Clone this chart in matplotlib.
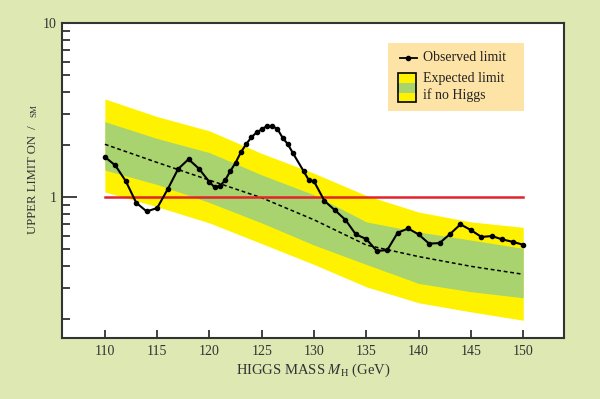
import numpy as np
import matplotlib
matplotlib.use("Agg")
import matplotlib.pyplot as plt
from matplotlib.ticker import FixedLocator, NullFormatter

# observed limit (sigma / sigma_SM)
obs_mass = [110, 111, 112, 113, 114, 115, 116, 117, 118, 119, 120,
            120.5, 121, 121.5, 122, 122.5, 123, 123.5, 124, 124.5, 125,
            125.5, 126, 126.5, 127, 127.5, 128, 129, 129.5, 130, 131,
            132, 133, 134, 135, 136, 137, 138, 139, 140, 141, 142, 143,
            144, 145, 146, 147, 148, 149, 150]
obs_limit = [1.70, 1.52, 1.235, 0.927, 0.827, 0.865, 1.107, 1.448, 1.65, 1.455, 1.22,
             1.137, 1.157, 1.25, 1.41, 1.575, 1.805, 2.01, 2.20, 2.35, 2.45,
             2.56, 2.56, 2.46, 2.19, 2.01, 1.78, 1.41, 1.25, 1.23, 0.95,
             0.84, 0.74, 0.61, 0.574, 0.49, 0.496, 0.624, 0.66, 0.61, 0.54, 0.544, 0.613,
             0.697, 0.646, 0.59, 0.597, 0.571, 0.553, 0.532]

# expected limit and bands
exp_mass = [110, 115, 120, 125, 130, 135, 140, 145, 150]
exp_median = [2.01, 1.58, 1.25, 0.99, 0.74, 0.53, 0.455, 0.40, 0.36]
exp_1s_hi = [2.71, 2.17, 1.80, 1.34, 1.03, 0.72, 0.63, 0.566, 0.507]
exp_1s_lo = [1.43, 1.18, 0.93, 0.71, 0.53, 0.41, 0.319, 0.286, 0.264]
exp_2s_hi = [3.66, 2.90, 2.40, 1.78, 1.37, 1.02, 0.82, 0.72, 0.67]
exp_2s_lo = [1.07, 0.88, 0.71, 0.54, 0.41, 0.305, 0.247, 0.219, 0.196]

x_ticks = [110, 115, 120, 125, 130, 135, 140, 145, 150]

bg = '#dde8b3'
yellow = '#fff200'
green = '#a8d36e'
serif = ['Liberation Serif', 'DejaVu Serif']

fig = plt.figure(figsize=(6, 3.99), dpi=100, facecolor=bg)
ax = fig.add_axes([0.1033, 0.1529, 0.8367, 0.7895])
ax.set_facecolor('white')

ax.fill_between(exp_mass, exp_2s_lo, exp_2s_hi, color=yellow, lw=0)
ax.fill_between(exp_mass, exp_1s_lo, exp_1s_hi, color=green, lw=0)
ax.plot(exp_mass, exp_median, color='black', lw=1.1, ls=(0, (2.5, 1.8)))
ax.plot([110, 150], [1, 1], color='#e3232b', lw=1.8)
ax.plot(obs_mass, obs_limit, color='black', lw=1.5, marker='o', ms=3.0)

ax.set_yscale('log')
ax.set_xlim(105.9, 153.9)
ax.set_ylim(0.155, 10)

ax.yaxis.set_major_locator(FixedLocator([1, 10]))
ax.yaxis.set_minor_locator(FixedLocator([0.2, 0.3, 0.4, 0.5, 0.6, 0.7, 0.8, 0.9,
                                         2, 3, 4, 5, 6, 7, 8, 9]))
ax.yaxis.set_minor_formatter(NullFormatter())
ax.set_yticklabels(['1', '10'], fontfamily=serif, fontsize=10)
ax.set_xticks(x_ticks)
ax.set_xticklabels([str(t) for t in x_ticks], fontfamily=serif, fontsize=10)

ax.tick_params(axis='y', which='major', direction='in', length=11, width=1.3,
               color='#333333', labelcolor='#333333', pad=4)
ax.tick_params(axis='y', which='minor', direction='in', length=5.5, width=1.3,
               color='#333333')
ax.tick_params(axis='x', direction='in', length=6, width=1.3, color='#333333',
               labelcolor='#333333', pad=5)
for s in ax.spines.values():
    s.set_color('#333333')
    s.set_linewidth(1.5)

ax.set_xlabel('HIGGS MASS $\\mathit{M}_\\mathrm{H}$ (GeV)', fontfamily=serif,
              fontsize=10.5, color='#333333', labelpad=3)
ax.xaxis.label.set_math_fontfamily('stix')

# y label (sigma glyphs missing in the original)
fig.text(0.055, 1 - 185 / 399, 'UPPER LIMIT ON', rotation=90, ha='center', va='center',
         fontfamily=serif, fontsize=9.2, color='#333333')
fig.text(0.055, 1 - 127 / 399, '/', rotation=90, ha='center', va='center',
         fontfamily=serif, fontsize=9.5, color='#333333')
fig.text(0.058, 1 - 111 / 399, 'SM', rotation=90, ha='center', va='center',
         fontfamily=serif, fontsize=6.5, color='#333333')

# legend
tr = ax.transAxes
ax.add_patch(plt.Rectangle((0.649, 0.721), 0.271, 0.216, transform=tr,
                           facecolor='#fde3a6', edgecolor='none', zorder=5))
ax.plot([0.673, 0.707], [0.889, 0.889], transform=tr, color='black', lw=1.3, zorder=6)
ax.plot([0.690], [0.889], transform=tr, color='black', marker='o', ms=3, zorder=6)
ax.text(0.719, 0.889, 'Observed limit', transform=tr, va='center', ha='left',
        fontfamily=serif, fontsize=10, color='#222222', zorder=6)
ax.add_patch(plt.Rectangle((0.669, 0.749), 0.036, 0.092, transform=tr,
                           facecolor=yellow, edgecolor='none', zorder=6))
ax.add_patch(plt.Rectangle((0.669, 0.778), 0.036, 0.032, transform=tr,
                           facecolor=green, edgecolor='none', zorder=6))
ax.add_patch(plt.Rectangle((0.669, 0.749), 0.036, 0.092, transform=tr,
                           facecolor='none', edgecolor='black', lw=1.2, zorder=7))
ax.text(0.719, 0.824, 'Expected limit', transform=tr, va='center', ha='left',
        fontfamily=serif, fontsize=10, color='#222222', zorder=6)
ax.text(0.719, 0.772, 'if no Higgs', transform=tr, va='center', ha='left',
        fontfamily=serif, fontsize=10, color='#222222', zorder=6)

fig.savefig('out.png', dpi=100, facecolor=bg)
